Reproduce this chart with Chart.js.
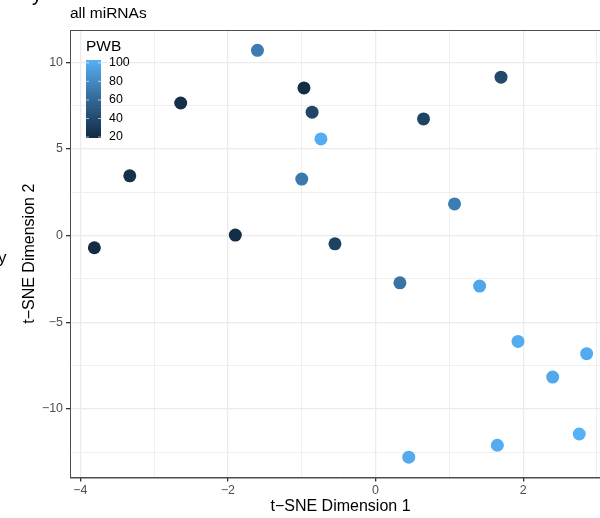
<!DOCTYPE html>
<html>
<head>
<meta charset="utf-8">
<script src="https://cdn.jsdelivr.net/npm/chart.js@4.4.1/dist/chart.umd.min.js"></script>
<style>
  html, body { margin: 0; padding: 0; background: #fff; overflow: hidden; }
  #wrap { width: 620px; height: 518px; }
</style>
</head>
<body>
<div id="wrap"><canvas id="tsneChart" width="620" height="518"></canvas></div>
<script>
// t-SNE coordinates of the samples and their PWB score
const tsne1 = [-1.60, -0.97, -0.86, -0.74, -1.00, 0.65, 1.70, 1.07, -1.90, -0.55, 0.33,
               1.41, 1.93, 2.86, 2.40, 2.76, 1.65, 0.45, -2.64, -3.33, -3.81];
const tsne2 = [10.69, 8.52, 7.12, 5.58, 3.26, 6.73, 9.14, 1.83, 0.03, -0.47, -2.72,
               -2.91, -6.10, -6.81, -8.16, -11.44, -12.09, -12.78, 7.65, 3.45, -0.70];
const pwb = [72, 20, 37, 101, 70, 36, 40, 72, 21, 35, 68,
             97, 100, 99, 98, 103, 100, 99, 22, 23, 19];

const xTicks = [-4, -2, 0, 2];
const yTicks = [-10, -5, 0, 5, 10];
const pwbTicks = [20, 40, 60, 80, 100];

const lowColor = '#132B43';
const highColor = '#56B1F7';
const FONT = '"Liberation Sans", Arial, Helvetica, sans-serif';

// colour ramp interpolated in Lab space
function toLab(hex) {
    let [r, g, b] = [1, 3, 5].map(i => parseInt(hex.substr(i, 2), 16) / 255)
        .map(c => c <= 0.04045 ? c / 12.92 : Math.pow((c + 0.055) / 1.055, 2.4));
    let x = (r * 0.4124 + g * 0.3576 + b * 0.1805) / 0.95047;
    let y = r * 0.2126 + g * 0.7152 + b * 0.0722;
    let z = (r * 0.0193 + g * 0.1192 + b * 0.9505) / 1.08883;
    const f = t => t > 0.008856 ? Math.cbrt(t) : 7.787 * t + 16 / 116;
    return [116 * f(y) - 16, 500 * (f(x) - f(y)), 200 * (f(y) - f(z))];
}
function fromLab([L, a, bb]) {
    let fy = (L + 16) / 116, fx = fy + a / 500, fz = fy - bb / 200;
    const inv = t => t * t * t > 0.008856 ? t * t * t : (t - 16 / 116) / 7.787;
    let x = inv(fx) * 0.95047, y = inv(fy), z = inv(fz) * 1.08883;
    let rgb = [
        x * 3.2406 - y * 1.5372 - z * 0.4986,
        -x * 0.9689 + y * 1.8758 + z * 0.0415,
        x * 0.0557 - y * 0.2040 + z * 1.0570
    ];
    return 'rgb(' + rgb.map(c => {
        c = c <= 0.0031308 ? 12.92 * c : 1.055 * Math.pow(c, 1 / 2.4) - 0.055;
        return Math.round(Math.min(1, Math.max(0, c)) * 255);
    }).join(',') + ')';
}
const labLow = toLab(lowColor), labHigh = toLab(highColor);
const pwbMin = Math.min(...pwb), pwbMax = Math.max(...pwb);
function pwbColor(v) {
    let t = (v - pwbMin) / (pwbMax - pwbMin);
    return fromLab(labLow.map((c, i) => c + (labHigh[i] - c) * t));
}

function minus(v) { return String(v).replace('-', '\u2212'); }

// grid lines every unit on x, every 2.5 on y (minor ones in between labels)
let xGrid = [];
for (let v = -4; v <= 3; v++) xGrid.push(v);
let yGrid = [];
for (let v = -12.5; v <= 10; v += 2.5) yGrid.push(v);

const panelLine = '#4d4d4d';

const extras = {
    id: 'extras',
    afterDatasetsDraw(chart) {
        const {ctx, chartArea: a} = chart;
        ctx.save();
        ctx.strokeStyle = panelLine;
        ctx.lineWidth = 1;
        ctx.strokeRect(a.left + 0.5, a.top + 0.5, a.right - a.left - 1, a.bottom - a.top);
        ctx.restore();
    },
    afterDraw(chart) {
        const {ctx} = chart;
        ctx.save();
        ctx.fillStyle = '#000';
        ctx.textBaseline = 'alphabetic';
        ctx.textAlign = 'left';

        // bits of neighbouring labels
        ctx.font = '20px ' + FONT;
        ctx.fillText('y', 32, 0.5);
        ctx.font = '17px ' + FONT;
        ctx.fillText('y', -2, 263);

        ctx.font = '15.5px ' + FONT;
        ctx.fillText('all miRNAs', 70, 17.5);

        // colour bar legend
        ctx.fillText('PWB', 86, 50.7);
        const barX = 86, barW = 15, barTop = 60, barBot = 138;
        const grad = ctx.createLinearGradient(0, barBot, 0, barTop);
        for (let i = 0; i <= 20; i++) {
            grad.addColorStop(i / 20, pwbColor(pwbMin + (pwbMax - pwbMin) * i / 20));
        }
        ctx.fillStyle = grad;
        ctx.fillRect(barX, barTop, barW, barBot - barTop);

        const yOf = v => barBot - (v - pwbMin) / (pwbMax - pwbMin) * (barBot - barTop);
        ctx.strokeStyle = 'rgba(255,255,255,0.8)';
        ctx.lineWidth = 0.8;
        ctx.font = '12.4px ' + FONT;
        ctx.textBaseline = 'middle';
        pwbTicks.forEach(v => {
            const y = yOf(v);
            ctx.beginPath();
            ctx.moveTo(barX, y); ctx.lineTo(barX + 3, y);
            ctx.moveTo(barX + barW - 3, y); ctx.lineTo(barX + barW, y);
            ctx.stroke();
            ctx.fillStyle = '#000';
            ctx.fillText(String(v), 109, y);
        });
        ctx.restore();
    }
};

new Chart(document.getElementById('tsneChart'), {
    type: 'scatter',
    data: {
        datasets: [{
            data: tsne1.map((x, i) => ({x: x, y: tsne2[i]})),
            backgroundColor: pwb.map(pwbColor),
            borderWidth: 0,
            pointRadius: 6.5,
            pointHoverRadius: 6.5
        }]
    },
    options: {
        responsive: false,
        animation: false,
        layout: { padding: { top: 30, right: 9, left: 0, bottom: 0 } },
        plugins: { legend: { display: false }, tooltip: { enabled: false } },
        scales: {
            x: {
                type: 'linear',
                min: -4.14,
                max: 3.19,
                afterBuildTicks: s => { s.ticks = xGrid.map(v => ({value: v})); },
                afterFit: s => { s.height = 40.5; },
                ticks: {
                    autoSkip: false,
                    maxRotation: 0,
                    padding: 2,
                    color: '#4d4d4d',
                    font: { family: FONT, size: 12.4 },
                    callback: v => xTicks.includes(v) ? minus(v) : ''
                },
                grid: {
                    color: '#ebebeb',
                    lineWidth: c => (c.tick && xTicks.includes(c.tick.value)) ? 1.3 : 0.8,
                    tickLength: 4,
                    tickColor: c => (c.tick && xTicks.includes(c.tick.value)) ? '#333' : 'rgba(0,0,0,0)'
                },
                border: { display: true, color: panelLine, width: 1 },
                title: {
                    display: true,
                    text: 't\u2212SNE Dimension 1',
                    color: '#000',
                    font: { family: FONT, size: 16 },
                    padding: { top: 0, bottom: 1.5 }
                }
            },
            y: {
                type: 'linear',
                min: -13.95,
                max: 11.86,
                afterBuildTicks: s => { s.ticks = yGrid.map(v => ({value: v})); },
                afterFit: s => { s.width = 70; },
                ticks: {
                    autoSkip: false,
                    padding: 3,
                    color: '#4d4d4d',
                    font: { family: FONT, size: 12.4 },
                    callback: v => yTicks.includes(v) ? minus(v) : ''
                },
                grid: {
                    color: '#ebebeb',
                    lineWidth: c => (c.tick && yTicks.includes(c.tick.value)) ? 1.3 : 0.8,
                    tickLength: 4,
                    tickColor: c => (c.tick && yTicks.includes(c.tick.value)) ? '#333' : 'rgba(0,0,0,0)'
                },
                border: { display: true, color: panelLine, width: 1 },
                title: {
                    display: true,
                    text: 't\u2212SNE Dimension 2',
                    color: '#000',
                    font: { family: FONT, size: 16 },
                    padding: { top: 20, bottom: 0 }
                }
            }
        }
    },
    plugins: [extras]
});
</script>
</body>
</html>
